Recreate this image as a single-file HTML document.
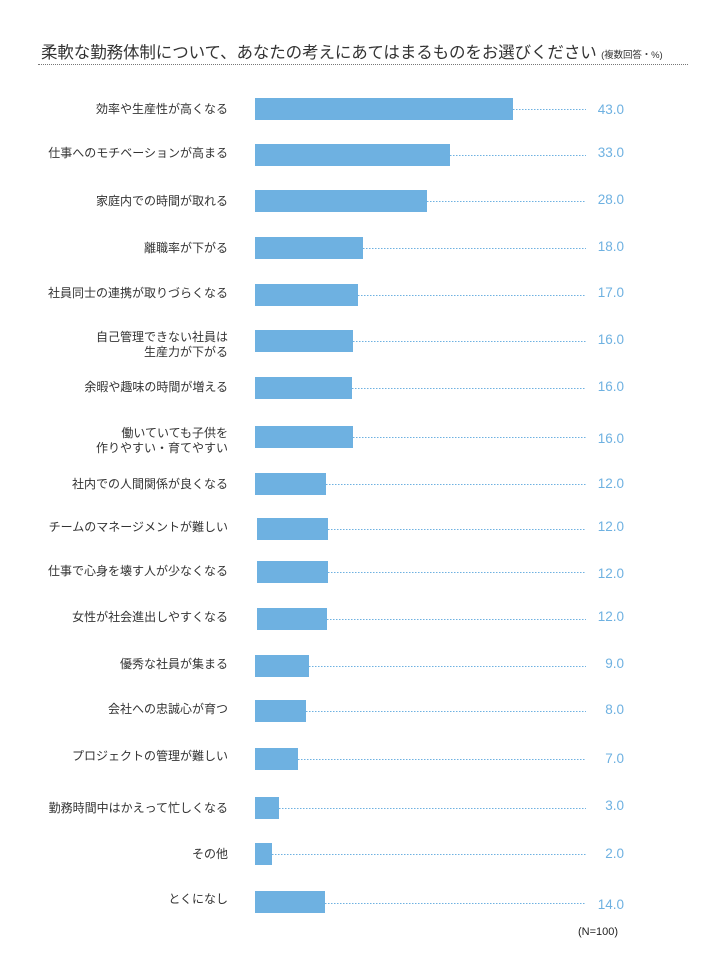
<!DOCTYPE html>
<html><head><meta charset="utf-8"><style>
body{margin:0;width:720px;height:980px;background:#fff;position:relative;font-family:"Liberation Sans","Noto Sans CJK JP",sans-serif;color:#333;overflow:hidden}
.t{position:absolute;left:41px;top:39px;font-size:16.5px;color:#333;white-space:nowrap;letter-spacing:-0.1px}
.t small{font-size:9.5px}
.hr{position:absolute;left:38px;top:64px;width:650px;border-top:1.5px dotted #777}
.l{position:absolute;right:492px;font-size:12px;text-align:right;line-height:15px;white-space:nowrap}
.b{position:absolute;height:22px;background:#6eb1e1}
.d{position:absolute;height:1px;background-image:linear-gradient(to right,#6eb1e1 50%,transparent 50%);background-size:3px 1px}
.v{position:absolute;left:590px;width:34px;text-align:right;font-size:13.5px;color:#6eb1e1}
.n{position:absolute;left:578px;top:926px;font-size:11px;color:#222}
</style></head><body>
<div class="t">柔軟な勤務体制について、あなたの考えにあてはまるものをお選びください <small>(複数回答・%)</small></div>
<div class="hr"></div>

<div class="l" style="top:102px">効率や生産性が高くなる</div><div class="b" style="left:255px;width:258px;top:98px"></div><div class="d" style="left:513px;right:134px;top:109px"></div><div class="v" style="top:102px">43.0</div>
<div class="l" style="top:146px">仕事へのモチベーションが高まる</div><div class="b" style="left:255px;width:195px;top:144px"></div><div class="d" style="left:450px;right:134px;top:155px"></div><div class="v" style="top:145px">33.0</div>
<div class="l" style="top:194px">家庭内での時間が取れる</div><div class="b" style="left:255px;width:172px;top:190px"></div><div class="d" style="left:427px;right:134px;top:201px"></div><div class="v" style="top:192px">28.0</div>
<div class="l" style="top:241px">離職率が下がる</div><div class="b" style="left:255px;width:108px;top:237px"></div><div class="d" style="left:363px;right:134px;top:248px"></div><div class="v" style="top:239px">18.0</div>
<div class="l" style="top:286px">社員同士の連携が取りづらくなる</div><div class="b" style="left:255px;width:103px;top:284px"></div><div class="d" style="left:358px;right:134px;top:295px"></div><div class="v" style="top:285px">17.0</div>
<div class="l" style="top:330px">自己管理できない社員は<br>生産力が下がる</div><div class="b" style="left:255px;width:98px;top:330px"></div><div class="d" style="left:353px;right:134px;top:341px"></div><div class="v" style="top:332px">16.0</div>
<div class="l" style="top:380px">余暇や趣味の時間が増える</div><div class="b" style="left:255px;width:97px;top:377px"></div><div class="d" style="left:352px;right:134px;top:388px"></div><div class="v" style="top:379px">16.0</div>
<div class="l" style="top:426px">働いていても子供を<br>作りやすい・育てやすい</div><div class="b" style="left:255px;width:98px;top:426px"></div><div class="d" style="left:353px;right:134px;top:437px"></div><div class="v" style="top:431px">16.0</div>
<div class="l" style="top:477px">社内での人間関係が良くなる</div><div class="b" style="left:255px;width:71px;top:473px"></div><div class="d" style="left:326px;right:134px;top:484px"></div><div class="v" style="top:476px">12.0</div>
<div class="l" style="top:520px">チームのマネージメントが難しい</div><div class="b" style="left:257px;width:71px;top:518px"></div><div class="d" style="left:328px;right:134px;top:529px"></div><div class="v" style="top:519px">12.0</div>
<div class="l" style="top:564px">仕事で心身を壊す人が少なくなる</div><div class="b" style="left:257px;width:71px;top:561px"></div><div class="d" style="left:328px;right:134px;top:572px"></div><div class="v" style="top:566px">12.0</div>
<div class="l" style="top:610px">女性が社会進出しやすくなる</div><div class="b" style="left:257px;width:70px;top:608px"></div><div class="d" style="left:327px;right:134px;top:619px"></div><div class="v" style="top:609px">12.0</div>
<div class="l" style="top:657px">優秀な社員が集まる</div><div class="b" style="left:255px;width:54px;top:655px"></div><div class="d" style="left:309px;right:134px;top:666px"></div><div class="v" style="top:656px">9.0</div>
<div class="l" style="top:702px">会社への忠誠心が育つ</div><div class="b" style="left:255px;width:51px;top:700px"></div><div class="d" style="left:306px;right:134px;top:711px"></div><div class="v" style="top:702px">8.0</div>
<div class="l" style="top:749px">プロジェクトの管理が難しい</div><div class="b" style="left:255px;width:43px;top:748px"></div><div class="d" style="left:298px;right:134px;top:759px"></div><div class="v" style="top:751px">7.0</div>
<div class="l" style="top:801px">勤務時間中はかえって忙しくなる</div><div class="b" style="left:255px;width:24px;top:797px"></div><div class="d" style="left:279px;right:134px;top:808px"></div><div class="v" style="top:798px">3.0</div>
<div class="l" style="top:847px">その他</div><div class="b" style="left:255px;width:17px;top:843px"></div><div class="d" style="left:272px;right:134px;top:854px"></div><div class="v" style="top:846px">2.0</div>
<div class="l" style="top:892px">とくになし</div><div class="b" style="left:255px;width:70px;top:891px"></div><div class="d" style="left:325px;right:134px;top:903px"></div><div class="v" style="top:897px">14.0</div>
<div class="n">(N=100)</div>
</body></html>
